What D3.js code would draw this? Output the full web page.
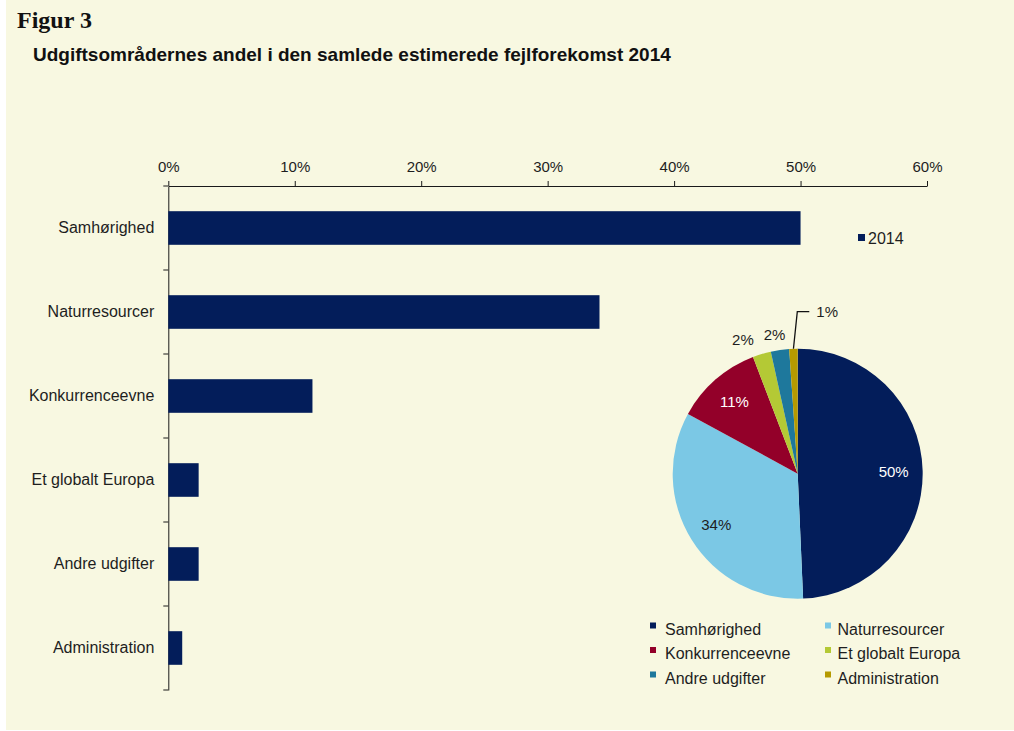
<!DOCTYPE html>
<html>
<head>
<meta charset="utf-8">
<script src="https://cdn.jsdelivr.net/npm/d3@7"></script>
<style>
  html, body { margin: 0; padding: 0; background: #ffffff; }
  svg { display: block; }
  text { font-family: "Liberation Sans", Arial, sans-serif; fill: #1e1e1e; }
</style>
</head>
<body>
<script>
// ---- data ----
const categories = ["Samhørighed", "Naturresourcer", "Konkurrenceevne", "Et globalt Europa", "Andre udgifter", "Administration"];
const shares2014 = [50.0, 34.1, 11.4, 2.4, 2.4, 1.1];
const xTickValues = [0, 10, 20, 30, 40, 50, 60];
const seriesName = "2014";
const figureLabel = "Figur 3";
const titleText = "Udgiftsområdernes andel i den samlede estimerede fejlforekomst 2014";

// ---- styles / layout ----
const W = 1014, H = 731;
const barColor = "#031d5a";
const pieColors = ["#031d5a", "#7bc8e5", "#930029", "#b4c935", "#1e789c", "#b59a00"];
const bg = "#f8f8e1";

const svg = d3.select("body").append("svg").attr("width", W).attr("height", H);
svg.append("rect").attr("x", 6).attr("y", 0).attr("width", W - 6).attr("height", 730).attr("fill", bg);

svg.append("text").attr("x", 17).attr("y", 28)
  .style("font-family", "'Liberation Serif', 'Times New Roman', serif")
  .style("font-weight", "bold").style("font-size", "24px").style("fill", "#111")
  .text(figureLabel);
svg.append("text").attr("x", 33).attr("y", 61)
  .style("font-weight", "bold").style("font-size", "19px").style("fill", "#111")
  .text(titleText);

// ---- bar chart ----
const x = d3.scaleLinear().domain([0, 60]).range([168.3, 927]);
const y = d3.scaleBand().domain(categories).range([186, 690]).paddingInner(0.6).paddingOuter(0.3);

const xAxis = svg.append("g").attr("transform", "translate(0,186)")
  .call(d3.axisTop(x).tickValues(xTickValues).tickSize(5).tickSizeOuter(0).tickPadding(9).tickFormat(d => d + "%"));
xAxis.selectAll("text").style("font-size", "15px").style("font-family", "'Liberation Sans', Arial, sans-serif").attr("fill", "#2a2a2a");
xAxis.selectAll("line, path").attr("stroke", "#1a1a1a");

const yAxis = svg.append("g").attr("transform", `translate(${x(0)},0)`)
  .call(d3.axisLeft(y).tickSize(0).tickPadding(14));
yAxis.selectAll("text").style("font-size", "16px").style("font-family", "'Liberation Sans', Arial, sans-serif").attr("fill", "#2a2a2a");
yAxis.select("path").attr("stroke", "#1a1a1a");

// category boundary ticks
const boundaries = categories.map(c => y(c) + y.bandwidth() / 2 - y.step() / 2);
boundaries.push(y(categories[categories.length - 1]) + y.bandwidth() / 2 + y.step() / 2);
svg.append("g").selectAll("line").data(boundaries).join("line")
  .attr("x1", x(0) - 5).attr("x2", x(0)).attr("y1", d => d).attr("y2", d => d)
  .attr("stroke", "#1a1a1a");

svg.append("g").selectAll("rect").data(categories).join("rect")
  .attr("x", x(0)).attr("y", c => y(c))
  .attr("width", (c, i) => x(shares2014[i]) - x(0))
  .attr("height", y.bandwidth())
  .attr("fill", barColor);

// series legend
svg.append("rect").attr("x", 858).attr("y", 234).attr("width", 7).attr("height", 7).attr("fill", barColor);
svg.append("text").attr("x", 868).attr("y", 243.5).style("font-size", "16px").text(seriesName);

// ---- pie chart ----
const cx = 797.7, cy = 473.7, R = 125;
const pie = d3.pie().sort(null).value(d => d);
const arcs = pie(shares2014);
const arc = d3.arc().innerRadius(0).outerRadius(R);
const labelArc = d3.arc().innerRadius(96).outerRadius(96);
const outerArc = d3.arc().innerRadius(142).outerRadius(142);

const pg = svg.append("g").attr("transform", `translate(${cx},${cy})`);
pg.selectAll("path").data(arcs).join("path")
  .attr("d", arc).attr("fill", (d, i) => pieColors[i]);

const labelColors = ["#ffffff", "#1e1e1e", "#ffffff"];
const outsideNudge = [0, 0, 0, -14, -3, 0];
arcs.forEach((a, i) => {
  const txt = Math.round(shares2014[i]) + "%";
  if (i < 3) {
    const [lx, ly] = labelArc.centroid(a);
    pg.append("text").attr("x", lx).attr("y", ly).attr("dy", "0.35em")
      .attr("text-anchor", "middle").style("font-size", "15px")
      .style("fill", labelColors[i]).text(txt);
  } else if (i < 5) {
    const [lx, ly] = outerArc.centroid(a);
    pg.append("text").attr("x", lx + outsideNudge[i]).attr("y", ly + 2).attr("dy", "0.35em")
      .attr("text-anchor", "middle").style("font-size", "15px").text(txt);
  } else {
    const [sx, sy] = arc.centroid(a).map(v => v); // inner point, recompute at edge
    const mid = (a.startAngle + a.endAngle) / 2;
    const ex = Math.sin(mid) * R, ey = -Math.cos(mid) * R;
    const kx = -0.4, ky = -162;
    pg.append("polyline")
      .attr("points", [[ex, ey], [kx, ky], [kx + 12, ky]].map(p => p.join(",")).join(" "))
      .attr("fill", "none").attr("stroke", "#111").attr("stroke-width", 1.3);
    pg.append("text").attr("x", kx + 19).attr("y", ky).attr("dy", "0.35em")
      .style("font-size", "15px").text(txt);
  }
});

// pie legend
const legCols = [650, 825];
const legRows = [629, 653.5, 678];
const lg = svg.append("g");
categories.forEach((c, i) => {
  const lx = legCols[i % 2], ly = legRows[Math.floor(i / 2)];
  lg.append("rect").attr("x", lx).attr("y", ly - 6.5).attr("width", 6).attr("height", 6).attr("fill", pieColors[i]);
  lg.append("text").attr("x", lx + (i % 2 === 0 ? 15 : 12.5)).attr("y", ly).attr("dy", "0.36em")
    .style("font-size", "16px").text(c);
});
</script>
</body>
</html>
